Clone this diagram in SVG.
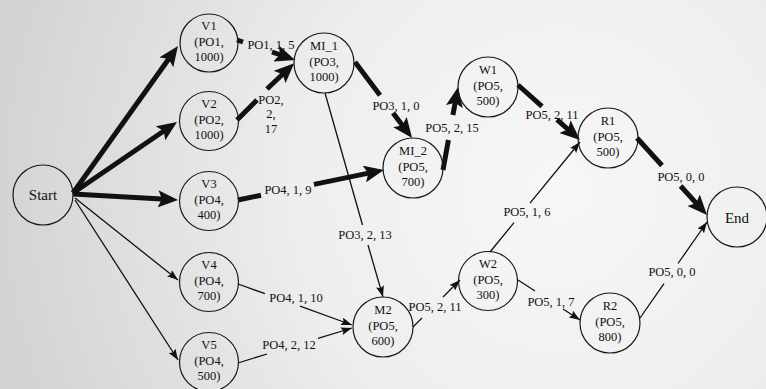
<svg xmlns="http://www.w3.org/2000/svg" width="766" height="389" viewBox="0 0 766 389" font-family="'Liberation Serif', 'DejaVu Serif', serif">
<defs>
<radialGradient id="bg" cx="560" cy="190" r="580" gradientUnits="userSpaceOnUse">
<stop offset="0" stop-color="#f7f7f7"/>
<stop offset="0.45" stop-color="#eeeeee"/>
<stop offset="1" stop-color="#d2d2d2"/>
</radialGradient>
<marker id="ak" markerUnits="userSpaceOnUse" markerWidth="20" markerHeight="17" viewBox="0 0 20 17" refX="8" refY="8.5" orient="auto">
<path d="M0,0 L20,8.5 L0,17 L4,8.5 z" fill="#111"/>
</marker>
<marker id="an" markerUnits="userSpaceOnUse" markerWidth="11" markerHeight="8" viewBox="0 0 11 8" refX="11" refY="4" orient="auto">
<path d="M0,0 L11,4 L0,8 L2,4 z" fill="#111"/>
</marker>
<style>
.node circle{fill:none;stroke:#1a1a1a;stroke-width:1.2}
text{font-family:'Liberation Serif','DejaVu Serif',serif;font-size:12.5px;fill:#111;text-anchor:middle}
.big{font-size:15px}
.thick{fill:none;stroke:#111;stroke-width:5}
.thin{fill:none;stroke:#111;stroke-width:1.3}
</style>
</defs>
<rect width="766" height="389" fill="url(#bg)"/>

<g id="connectors">
<path class="thick" d="M73,193 L171,55.8" marker-end="url(#ak)"/>
<path class="thick" d="M73,193 L167.1,128.8" marker-end="url(#ak)"/>
<path class="thick" d="M73,194 L166,199.3" marker-end="url(#ak)"/>
<path class="thin" d="M75,198 L178,280" marker-end="url(#an)"/>
<path class="thin" d="M75,200 L178,360" marker-end="url(#an)"/>
<path class="thick" d="M237,40 L243,42 M272,52 L283.7,56" marker-end="url(#ak)"/>
<path class="thick" d="M237,120 L257,100 M267,89 L285.5,71.5" marker-end="url(#ak)"/>
<path class="thick" d="M355,62 L380,95.3 M393,113 L404.8,128.4" marker-end="url(#ak)"/>
<path class="thick" d="M238,200 L261,195.3 M314,184.4 L372.2,172.4" marker-end="url(#ak)"/>
<path class="thick" d="M443,170 L448.4,140 M452.9,115 L455.9,98.8" marker-end="url(#ak)"/>
<path class="thick" d="M518,85 L542,106.3 M557,119.6 L571,132" marker-end="url(#ak)"/>
<path class="thick" d="M637,138 L662,165.5 M680.6,186 L698.9,206.1" marker-end="url(#ak)"/>
<path class="thin" d="M325,93 L362.5,225 M368,245 L383,297" marker-end="url(#an)"/>
<path class="thin" d="M238,284 L265,293.7 M300,306.2 L352,325" marker-end="url(#an)"/>
<path class="thin" d="M238,363 L267,354 M318,338.4 L352,328" marker-end="url(#an)"/>
<path class="thin" d="M413,327 L422,318 M443,297 L460,280" marker-end="url(#an)"/>
<path class="thin" d="M490,252 L514,222.7 M530,203.1 L580,142" marker-end="url(#an)"/>
<path class="thin" d="M518,280 L535,291 M563,309 L580,320" marker-end="url(#an)"/>
<path class="thin" d="M640,318 L664,283.6 M678,263.5 L707,222" marker-end="url(#an)"/>
<text x="271" y="49">PO1, 1, 5</text>
<text x="271" y="104">PO2,<tspan x="271" y="118">2,</tspan><tspan x="271" y="133">17</tspan></text>
<text x="396" y="110">PO3, 1, 0</text>
<text x="452" y="132">PO5, 2, 15</text>
<text x="288" y="194">PO4, 1, 9</text>
<text x="552" y="119">PO5, 2, 11</text>
<text x="681" y="181">PO5, 0, 0</text>
<text x="527" y="216">PO5, 1, 6</text>
<text x="365" y="239">PO3, 2, 13</text>
<text x="296" y="302">PO4, 1, 10</text>
<text x="289" y="349">PO4, 2, 12</text>
<text x="435" y="311">PO5, 2, 11</text>
<text x="551" y="306">PO5, 1, 7</text>
<text x="672" y="276">PO5, 0, 0</text>
</g>

<g id="Start" class="node"><circle cx="43" cy="195" r="30"/><text class="big" x="43" y="200">Start</text></g>
<g id="V1" class="node"><circle cx="209" cy="43" r="29"/><text x="209" y="30">V1<tspan x="209" y="46">(PO1,</tspan><tspan x="209" y="61">1000)</tspan></text></g>
<g id="V2" class="node"><circle cx="209" cy="121" r="29.5"/><text x="209" y="108">V2<tspan x="209" y="124">(PO2,</tspan><tspan x="209" y="139">1000)</tspan></text></g>
<g id="V3" class="node"><circle cx="209" cy="201" r="29.5"/><text x="209" y="188">V3<tspan x="209" y="204">(PO4,</tspan><tspan x="209" y="219">400)</tspan></text></g>
<g id="V4" class="node"><circle cx="209" cy="282" r="29.5"/><text x="209" y="269">V4<tspan x="209" y="285">(PO4,</tspan><tspan x="209" y="300">700)</tspan></text></g>
<g id="V5" class="node"><circle cx="209" cy="362" r="29.5"/><text x="209" y="349">V5<tspan x="209" y="365">(PO4,</tspan><tspan x="209" y="380">500)</tspan></text></g>
<g id="MI_1" class="node"><circle cx="324" cy="63" r="30"/><text x="324" y="50">MI_1<tspan x="324" y="66">(PO3,</tspan><tspan x="324" y="81">1000)</tspan></text></g>
<g id="MI_2" class="node"><circle cx="413" cy="168" r="30"/><text x="413" y="155">MI_2<tspan x="413" y="171">(PO5,</tspan><tspan x="413" y="186">700)</tspan></text></g>
<g id="W1" class="node"><circle cx="488" cy="87" r="30"/><text x="488" y="74">W1<tspan x="488" y="90">(PO5,</tspan><tspan x="488" y="105">500)</tspan></text></g>
<g id="R1" class="node"><circle cx="608" cy="138" r="30"/><text x="608" y="125">R1<tspan x="608" y="141">(PO5,</tspan><tspan x="608" y="156">500)</tspan></text></g>
<g id="M2" class="node"><circle cx="383" cy="327" r="30"/><text x="383" y="314">M2<tspan x="383" y="330">(PO5,</tspan><tspan x="383" y="345">600)</tspan></text></g>
<g id="W2" class="node"><circle cx="488" cy="281" r="29.5"/><text x="488" y="268">W2<tspan x="488" y="284">(PO5,</tspan><tspan x="488" y="299">300)</tspan></text></g>
<g id="R2" class="node"><circle cx="610" cy="323" r="30"/><text x="610" y="310">R2<tspan x="610" y="326">(PO5,</tspan><tspan x="610" y="341">800)</tspan></text></g>
<g id="End" class="node"><circle cx="737" cy="217" r="30"/><text class="big" x="737" y="223">End</text></g>
</svg>
